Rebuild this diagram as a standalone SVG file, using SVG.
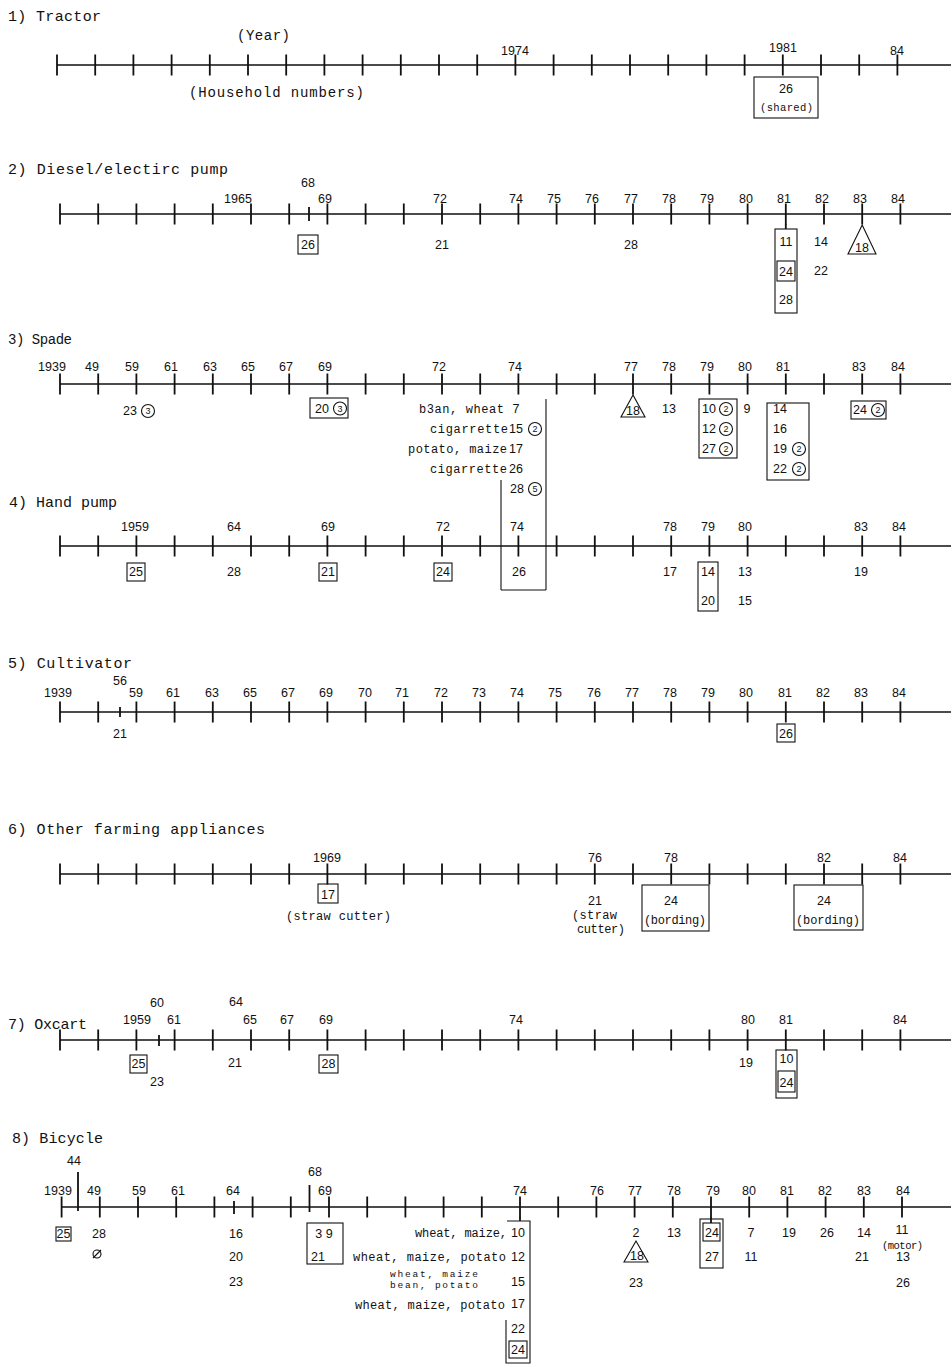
<svg xmlns="http://www.w3.org/2000/svg" width="951" height="1366" viewBox="0 0 951 1366">
<style>
text{fill:#111}
.ti{font-family:"Liberation Mono","DejaVu Sans Mono",monospace;font-size:15px}
.n{font-family:"Liberation Sans",Arial,sans-serif;font-size:12.5px;text-anchor:middle}
.sm{font-family:"Liberation Mono","DejaVu Sans Mono",monospace;font-size:12px}
.xs{font-family:"Liberation Mono","DejaVu Sans Mono",monospace;font-size:10.5px}
.x9{font-family:"Liberation Mono","DejaVu Sans Mono",monospace;font-size:9.5px}
.cd{font-family:"Liberation Sans",Arial,sans-serif;font-size:9px;text-anchor:middle}
.ax{stroke:#111;stroke-width:1.3;fill:none}
.tk{stroke:#111;stroke-width:1.8;fill:none}
.bx{stroke:#111;stroke-width:1.1;fill:none}
.c{stroke:#111;stroke-width:1.1;fill:none}
</style>
<defs>
<path id="tA" d="M60 -10.5V10.5M98.2 -10.5V10.5M136.4 -10.5V10.5M174.6 -10.5V10.5M212.8 -10.5V10.5M251 -10.5V10.5M289.2 -10.5V10.5M327.4 -10.5V10.5M365.6 -10.5V10.5M403.8 -10.5V10.5M442 -10.5V10.5M480.2 -10.5V10.5M518.4 -10.5V10.5M556.6 -10.5V10.5M594.8 -10.5V10.5M633 -10.5V10.5M671.2 -10.5V10.5M709.4 -10.5V10.5M747.6 -10.5V10.5M785.8 -10.5V10.5M824 -10.5V10.5M862.2 -10.5V10.5M900.4 -10.5V10.5"/>
</defs>

<g id="timelines">
<path class="ax" d="M57 65H951M60 214H951M60 384H951M60 546H951M60 712H951M60 874H951M60 1040H951M61 1207H951"/>
<use href="#tA" class="tk" x="-3" y="65"/>
<use href="#tA" class="tk" y="214"/>
<use href="#tA" class="tk" y="384"/>
<use href="#tA" class="tk" y="546"/>
<use href="#tA" class="tk" y="712"/>
<use href="#tA" class="tk" y="874"/>
<use href="#tA" class="tk" y="1040"/>
<use href="#tA" class="tk" x="1.6" y="1207"/>
<path class="tk" d="M309 207V221M785.8 224V229M120 707V717M159 1035V1046M78 1172V1211M234 1201V1214M309.5 1185V1212M520 1217V1221M711 1217V1223"/>
</g>

<g id="tractor">
<text class="ti" x="8" y="21" textLength="93">1) Tractor</text>
<text class="ti" x="237" y="40" textLength="53" style="font-size:14px">(Year)</text>
<text class="n" x="515" y="55">1974</text>
<text class="n" x="783" y="52">1981</text>
<text class="n" x="897" y="55">84</text>
<text class="ti" x="189" y="97" textLength="175" style="font-size:14px">(Household numbers)</text>
<rect class="bx" x="754" y="77" width="64" height="41"/>
<text class="n" x="786" y="93">26</text>
<text class="xs" x="760" y="111" textLength="53">(shared)</text>
</g>

<g id="pump">
<text class="ti" x="8" y="174" textLength="220">2) Diesel/electirc pump</text>
<text class="n" x="308" y="187">68</text>
<text class="n" x="238" y="203">1965</text>
<text class="n" x="325" y="203">69</text>
<text class="n" x="440" y="203">72</text>
<text class="n" x="516" y="203">74</text>
<text class="n" x="554" y="203">75</text>
<text class="n" x="592" y="203">76</text>
<text class="n" x="631" y="203">77</text>
<text class="n" x="669" y="203">78</text>
<text class="n" x="707" y="203">79</text>
<text class="n" x="746" y="203">80</text>
<text class="n" x="784" y="203">81</text>
<text class="n" x="822" y="203">82</text>
<text class="n" x="860" y="203">83</text>
<text class="n" x="898" y="203">84</text>
<rect class="bx" x="298" y="235" width="20" height="19"/>
<text class="n" x="308" y="249">26</text>
<text class="n" x="442" y="249">21</text>
<text class="n" x="631" y="249">28</text>
<rect class="bx" x="775" y="229" width="22" height="84"/>
<text class="n" x="786" y="246">11</text>
<rect class="bx" x="777" y="261" width="18" height="20"/>
<text class="n" x="786" y="276">24</text>
<text class="n" x="786" y="304">28</text>
<text class="n" x="821" y="246">14</text>
<text class="n" x="821" y="275">22</text>
<polygon class="c" points="862.2,225 848,254 876,254"/>
<text class="n" x="862" y="252">18</text>
</g>

<g id="spade">
<text class="ti" x="8" y="344" textLength="64" style="font-size:14px">3) Spade</text>
<text class="n" x="52" y="371">1939</text>
<text class="n" x="92" y="371">49</text>
<text class="n" x="132" y="371">59</text>
<text class="n" x="171" y="371">61</text>
<text class="n" x="210" y="371">63</text>
<text class="n" x="248" y="371">65</text>
<text class="n" x="286" y="371">67</text>
<text class="n" x="325" y="371">69</text>
<text class="n" x="439" y="371">72</text>
<text class="n" x="515" y="371">74</text>
<text class="n" x="631" y="371">77</text>
<text class="n" x="669" y="371">78</text>
<text class="n" x="707" y="371">79</text>
<text class="n" x="745" y="371">80</text>
<text class="n" x="783" y="371">81</text>
<text class="n" x="859" y="371">83</text>
<text class="n" x="898" y="371">84</text>
<text class="n" x="130" y="415">23</text>
<circle class="c" cx="148" cy="411" r="6.5"/><text class="cd" x="148" y="414">3</text>
<rect class="bx" x="310" y="398" width="38" height="20"/>
<text class="n" x="322" y="413">20</text>
<circle class="c" cx="340" cy="408.5" r="6.5"/><text class="cd" x="340" y="411.5">3</text>
<text class="sm" x="419" y="413" textLength="85">b3an, wheat</text>
<text class="n" x="516" y="413">7</text>
<text class="sm" x="430" y="433" textLength="78">cigarrette</text>
<text class="n" x="516" y="433">15</text>
<circle class="c" cx="535" cy="429" r="6.5"/><text class="cd" x="535" y="432">2</text>
<text class="sm" x="408" y="453" textLength="99">potato, maize</text>
<text class="n" x="516" y="453">17</text>
<text class="sm" x="430" y="473" textLength="77">cigarrette</text>
<text class="n" x="516" y="473">26</text>
<text class="n" x="517" y="493">28</text>
<circle class="c" cx="535" cy="489" r="6.5"/><text class="cd" x="535" y="492">5</text>
<path class="bx" d="M546 399V590M501 480V590M501 590H546"/>
<polygon class="c" points="633,395 621,417 645,417"/>
<text class="n" x="633" y="415">18</text>
<text class="n" x="669" y="413">13</text>
<rect class="bx" x="699" y="399" width="38" height="59"/>
<text class="n" x="709" y="413">10</text>
<circle class="c" cx="726" cy="409" r="6.5"/><text class="cd" x="726" y="412">2</text>
<text class="n" x="709" y="433">12</text>
<circle class="c" cx="726" cy="429" r="6.5"/><text class="cd" x="726" y="432">2</text>
<text class="n" x="709" y="453">27</text>
<circle class="c" cx="726" cy="449" r="6.5"/><text class="cd" x="726" y="452">2</text>
<text class="n" x="747" y="413">9</text>
<rect class="bx" x="767" y="403" width="42" height="77"/>
<text class="n" x="780" y="413">14</text>
<text class="n" x="780" y="433">16</text>
<text class="n" x="780" y="453">19</text>
<circle class="c" cx="799" cy="449" r="6.5"/><text class="cd" x="799" y="452">2</text>
<text class="n" x="780" y="473">22</text>
<circle class="c" cx="799" cy="469" r="6.5"/><text class="cd" x="799" y="472">2</text>
<rect class="bx" x="851" y="401" width="35" height="18"/>
<text class="n" x="860" y="414">24</text>
<circle class="c" cx="878" cy="410" r="6.5"/><text class="cd" x="878" y="413">2</text>
</g>

<g id="handpump">
<text class="ti" x="9" y="507" textLength="108">4) Hand pump</text>
<text class="n" x="135" y="531">1959</text>
<text class="n" x="234" y="531">64</text>
<text class="n" x="328" y="531">69</text>
<text class="n" x="443" y="531">72</text>
<text class="n" x="517" y="531">74</text>
<text class="n" x="670" y="531">78</text>
<text class="n" x="708" y="531">79</text>
<text class="n" x="745" y="531">80</text>
<text class="n" x="861" y="531">83</text>
<text class="n" x="899" y="531">84</text>
<rect class="bx" x="127" y="563" width="18" height="18"/>
<text class="n" x="136" y="576">25</text>
<text class="n" x="234" y="576">28</text>
<rect class="bx" x="319" y="563" width="18" height="18"/>
<text class="n" x="328" y="576">21</text>
<rect class="bx" x="434" y="563" width="18" height="18"/>
<text class="n" x="443" y="576">24</text>
<text class="n" x="519" y="576">26</text>
<text class="n" x="670" y="576">17</text>
<rect class="bx" x="698" y="562" width="20" height="49"/>
<text class="n" x="708" y="576">14</text>
<text class="n" x="708" y="605">20</text>
<text class="n" x="745" y="576">13</text>
<text class="n" x="745" y="605">15</text>
<text class="n" x="861" y="576">19</text>
</g>

<g id="cultivator">
<text class="ti" x="8" y="668" textLength="124">5) Cultivator</text>
<text class="n" x="120" y="685">56</text>
<text class="n" x="58" y="697">1939</text>
<text class="n" x="136" y="697">59</text>
<text class="n" x="173" y="697">61</text>
<text class="n" x="212" y="697">63</text>
<text class="n" x="250" y="697">65</text>
<text class="n" x="288" y="697">67</text>
<text class="n" x="326" y="697">69</text>
<text class="n" x="365" y="697">70</text>
<text class="n" x="402" y="697">71</text>
<text class="n" x="441" y="697">72</text>
<text class="n" x="479" y="697">73</text>
<text class="n" x="517" y="697">74</text>
<text class="n" x="555" y="697">75</text>
<text class="n" x="594" y="697">76</text>
<text class="n" x="632" y="697">77</text>
<text class="n" x="670" y="697">78</text>
<text class="n" x="708" y="697">79</text>
<text class="n" x="746" y="697">80</text>
<text class="n" x="785" y="697">81</text>
<text class="n" x="823" y="697">82</text>
<text class="n" x="861" y="697">83</text>
<text class="n" x="899" y="697">84</text>
<text class="n" x="120" y="738">21</text>
<rect class="bx" x="777" y="724" width="18" height="18"/>
<text class="n" x="786" y="738">26</text>
</g>

<g id="other">
<text class="ti" x="8" y="834" textLength="257">6) Other farming appliances</text>
<text class="n" x="327" y="862">1969</text>
<text class="n" x="595" y="862">76</text>
<text class="n" x="671" y="862">78</text>
<text class="n" x="824" y="862">82</text>
<text class="n" x="900" y="862">84</text>
<rect class="bx" x="318" y="884" width="20" height="19"/>
<text class="n" x="328" y="899">17</text>
<text class="sm" x="286" y="920" textLength="105">(straw cutter)</text>
<text class="n" x="595" y="905">21</text>
<text class="sm" x="572" y="919" textLength="45">(straw</text>
<text class="sm" x="577" y="933" textLength="48">cutter)</text>
<rect class="bx" x="642" y="885" width="67" height="46"/>
<text class="n" x="671" y="905">24</text>
<text class="sm" x="644" y="924" textLength="62">(bording)</text>
<rect class="bx" x="794" y="885" width="69" height="45"/>
<text class="n" x="824" y="905">24</text>
<text class="sm" x="796" y="924" textLength="64">(bording)</text>
</g>

<g id="oxcart">
<text class="ti" x="8" y="1029" textLength="79">7) Oxcart</text>
<text class="n" x="157" y="1007">60</text>
<text class="n" x="236" y="1006">64</text>
<text class="n" x="137" y="1024">1959</text>
<text class="n" x="174" y="1024">61</text>
<text class="n" x="250" y="1024">65</text>
<text class="n" x="287" y="1024">67</text>
<text class="n" x="326" y="1024">69</text>
<text class="n" x="516" y="1024">74</text>
<text class="n" x="748" y="1024">80</text>
<text class="n" x="786" y="1024">81</text>
<text class="n" x="900" y="1024">84</text>
<rect class="bx" x="130" y="1055" width="17" height="18"/>
<text class="n" x="138.5" y="1068">25</text>
<text class="n" x="157" y="1086">23</text>
<text class="n" x="235" y="1067">21</text>
<rect class="bx" x="319" y="1055" width="19" height="18"/>
<text class="n" x="328.5" y="1068">28</text>
<text class="n" x="746" y="1067">19</text>
<rect class="bx" x="776" y="1050" width="21" height="48"/>
<text class="n" x="786.5" y="1063">10</text>
<rect class="bx" x="778" y="1071" width="17" height="21"/>
<text class="n" x="786.5" y="1087">24</text>
</g>

<g id="bicycle">
<text class="ti" x="12" y="1143" textLength="91">8) Bicycle</text>
<text class="n" x="74" y="1165">44</text>
<text class="n" x="315" y="1176">68</text>
<text class="n" x="58" y="1195">1939</text>
<text class="n" x="94" y="1195">49</text>
<text class="n" x="139" y="1195">59</text>
<text class="n" x="178" y="1195">61</text>
<text class="n" x="233" y="1195">64</text>
<text class="n" x="325" y="1195">69</text>
<text class="n" x="520" y="1195">74</text>
<text class="n" x="597" y="1195">76</text>
<text class="n" x="635" y="1195">77</text>
<text class="n" x="674" y="1195">78</text>
<text class="n" x="713" y="1195">79</text>
<text class="n" x="749" y="1195">80</text>
<text class="n" x="787" y="1195">81</text>
<text class="n" x="825" y="1195">82</text>
<text class="n" x="864" y="1195">83</text>
<text class="n" x="903" y="1195">84</text>
<rect class="bx" x="56" y="1227" width="15" height="14"/>
<text class="n" x="63.5" y="1238">25</text>
<text class="n" x="99" y="1238">28</text>
<circle class="c" cx="97" cy="1254" r="4"/>
<path class="c" d="M93 1258L101 1250"/>
<text class="n" x="236" y="1238">16</text>
<text class="n" x="236" y="1261">20</text>
<text class="n" x="236" y="1286">23</text>
<rect class="bx" x="307" y="1223" width="36" height="41"/>
<text class="n" x="324" y="1238">3 9</text>
<text class="n" x="318" y="1261">21</text>
<text class="sm" x="415" y="1237" textLength="92">wheat, maize,</text>
<text class="sm" x="353" y="1261" textLength="153">wheat, maize, potato</text>
<text class="x9" x="390" y="1277" textLength="88">wheat, maize</text>
<text class="x9" x="390" y="1288" textLength="88">bean, potato</text>
<text class="sm" x="355" y="1309" textLength="150">wheat, maize, potato</text>
<text class="n" x="518" y="1237">10</text>
<text class="n" x="518" y="1261">12</text>
<text class="n" x="518" y="1286">15</text>
<text class="n" x="518" y="1308">17</text>
<text class="n" x="518" y="1333">22</text>
<rect class="bx" x="509" y="1341" width="18" height="17"/>
<text class="n" x="518" y="1354">24</text>
<path class="bx" d="M507 1221H530V1363H506V1320"/>
<text class="n" x="636" y="1237">2</text>
<polygon class="c" points="636,1241 624,1262 648,1262"/>
<text class="n" x="637" y="1260">18</text>
<text class="n" x="636" y="1287">23</text>
<text class="n" x="674" y="1237">13</text>
<rect class="bx" x="700" y="1219" width="23" height="49"/>
<rect class="bx" x="703" y="1223" width="17" height="18"/>
<text class="n" x="712" y="1237">24</text>
<text class="n" x="712" y="1261">27</text>
<text class="n" x="751" y="1237">7</text>
<text class="n" x="751" y="1261">11</text>
<text class="n" x="789" y="1237">19</text>
<text class="n" x="827" y="1237">26</text>
<text class="n" x="864" y="1237">14</text>
<text class="n" x="862" y="1261">21</text>
<text class="n" x="902" y="1234">11</text>
<text class="xs" x="882" y="1249" textLength="41">(motor)</text>
<text class="n" x="903" y="1261">13</text>
<text class="n" x="903" y="1287">26</text>
</g>
</svg>
